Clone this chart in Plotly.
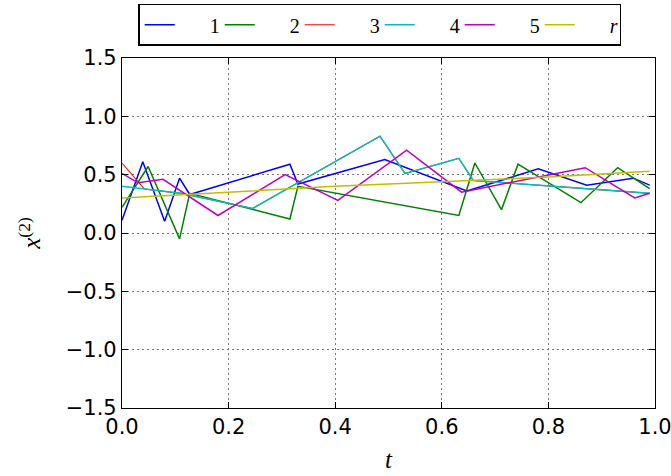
import plotly.graph_objects as go

# Series 1 (blue)
t1 = [0, 0.039, 0.08, 0.108, 0.127, 0.315, 0.33, 0.493, 0.647, 0.781, 0.872, 0.959, 0.99]
v1 = [0.11, 0.61, 0.10, 0.47, 0.33, 0.59, 0.42, 0.63, 0.36, 0.55, 0.41, 0.47, 0.41]
# Series 2 (green)
t2 = [0, 0.049, 0.108, 0.127, 0.315, 0.33, 0.632, 0.662, 0.712, 0.743, 0.861, 0.93, 0.99]
v2 = [0.22, 0.57, -0.05, 0.34, 0.12, 0.40, 0.15, 0.60, 0.20, 0.59, 0.26, 0.56, 0.38]
# Series 3 (red)
t3 = [0, 0.042, 0.11, 0.245, 0.484, 0.531, 0.632, 0.659, 0.87, 0.99]
v3 = [0.60, 0.377, 0.34, 0.21, 0.83, 0.51, 0.64, 0.45, 0.38, 0.34]
# Series 4 (cyan)
t4 = [0, 0.11, 0.245, 0.484, 0.531, 0.632, 0.659, 0.87, 0.99]
v4 = [0.40, 0.34, 0.21, 0.83, 0.51, 0.64, 0.45, 0.38, 0.34]
# Series 5 (magenta)
t5 = [0, 0.03, 0.077, 0.18, 0.306, 0.405, 0.534, 0.637, 0.869, 0.962, 0.99]
v5 = [0.51, 0.43, 0.46, 0.15, 0.50, 0.28, 0.71, 0.35, 0.56, 0.30, 0.34]
# Reference r (yellow)
tr = [0, 0.2, 0.4, 0.6, 0.8, 0.99]
vr = [0.30, 0.35, 0.40, 0.44, 0.48, 0.53]

names = ["1", "2", "3", "4", "5", "<i>r</i>"]
colors = ["#0000ff", "#008000", "#ff0000", "#00bfbf", "#bf00bf", "#bfbf00"]
widths = [1.5, 1.5, 1.1, 1.5, 1.5, 1.5]
xticks = [0.0, 0.2, 0.4, 0.6, 0.8, 1.0]
yticks = [-1.5, -1.0, -0.5, 0.0, 0.5, 1.0, 1.5]

series = [(t1, v1), (t2, v2), (t3, v3), (t4, v4), (t5, v5), (tr, vr)]
pad = "\u2002\u2002\u2002"

fig = go.Figure()
for (t, v), n, c, w in zip(series, names, colors, widths):
    fig.add_trace(go.Scatter(x=t, y=v, mode="lines", name=pad + n,
                             line=dict(color=c, width=w)))

axis_common = dict(
    showline=True, linecolor="black", linewidth=1.2, mirror="allticks",
    ticks="inside", ticklen=6, tickwidth=1, tickcolor="black",
    showgrid=True, gridcolor="#777777", griddash="2px,3px", gridwidth=1,
    zeroline=False, ticklabeloverflow="allow",
    tickfont=dict(family="DejaVu Sans", size=21, color="black"),
)

fig.update_xaxes(range=[0, 1.0], tickvals=xticks,
                 ticktext=[f"{v:.1f}" for v in xticks],
                 title=dict(text="<i>t</i>", font=dict(family="Liberation Serif", size=25, color="black"),
                            standoff=12),
                 **axis_common)
fig.update_yaxes(range=[-1.5, 1.5], tickvals=yticks,
                 ticktext=[f"{v:.1f}".replace("-", "\u2212") for v in yticks],
                 title=dict(text="<i>x</i><sup>(2)</sup>", font=dict(family="Liberation Serif", size=25, color="black"),
                            standoff=17),
                 **axis_common)

fig.update_layout(
    width=671, height=476,
    margin=dict(l=122, r=16, t=58, b=68, autoexpand=False),
    paper_bgcolor="white", plot_bgcolor="white",
    showlegend=True,
    legend=dict(orientation="h", xref="container", yref="container",
                x=0.206, y=0.992, xanchor="left", yanchor="top",
                bordercolor="black", borderwidth=1.5, bgcolor="white",
                font=dict(family="Liberation Serif", size=20, color="black"),
                entrywidth=35, entrywidthmode="pixels", tracegroupgap=0,
                itemwidth=30),
)

fig.write_html("out.html", config={"displayModeBar": False},
               post_script="document.body.style.margin='0px';document.body.style.overflow='hidden';")
